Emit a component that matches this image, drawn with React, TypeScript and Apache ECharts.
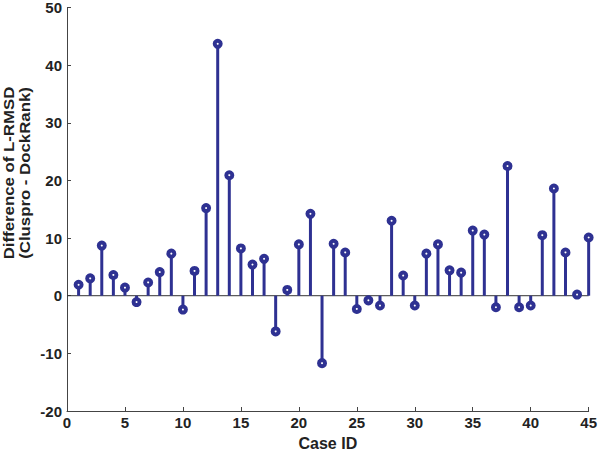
import React, { useEffect, useRef } from "react";
import * as echarts from "echarts";

const caseIds: number[] = [
  1, 2, 3, 4, 5, 6, 7, 8, 9, 10, 11, 12, 13, 14, 15, 16, 17, 18, 19, 20, 21, 22, 23,
  24, 25, 26, 27, 28, 29, 30, 31, 32, 33, 34, 35, 36, 37, 38, 39, 40, 41, 42, 43, 44, 45,
];
const diffValues: number[] = [
  1.9, 3.0, 8.7, 3.6, 1.4, -1.1, 2.3, 4.1, 7.3, -2.4, 4.3, 15.2, 43.7, 20.9, 8.2, 5.4,
  6.4, -6.2, 1.0, 8.9, 14.2, -11.7, 9.0, 7.5, -2.3, -0.8, -1.7, 13.0, 3.5, -1.7, 7.3,
  8.9, 4.4, 4.0, 11.3, 10.6, -2.0, 22.5, -2.0, -1.7, 10.5, 18.6, 7.5, 0.2, 10.1,
];
const xTicks = { min: 0, max: 45, interval: 5 };
const yTicks = { min: -20, max: 50, interval: 10 };
const xTitle = "Case ID";
const yTitleLines = ["Difference of L-RMSD", "(Cluspro - DockRank)"];

const STEM = "#2E3192";
const FONT = "Liberation Sans, Arial, Helvetica, sans-serif";

export default function App() {
  const ref = useRef<HTMLDivElement>(null);
  useEffect(() => {
    document.body.style.margin = "0";
    if (!ref.current) return;
    const chart = echarts.init(ref.current, undefined, { renderer: "svg" });
    const points = caseIds.map((c, i) => [c, diffValues[i]]);
    chart.setOption({
      animation: false,
      backgroundColor: "#ffffff",
      grid: { left: 67, right: 9, top: 7, bottom: 38, containLabel: false },
      xAxis: {
        type: "value",
        min: xTicks.min,
        max: xTicks.max,
        interval: xTicks.interval,
        name: xTitle,
        nameLocation: "middle",
        nameGap: 24,
        nameTextStyle: { fontFamily: FONT, fontWeight: "bold", fontSize: 16, color: "#222" },
        axisLine: { show: true, onZero: false, lineStyle: { color: "#444", width: 1 } },
        axisTick: { show: true, inside: true, length: 4, lineStyle: { color: "#444" } },
        axisLabel: { fontFamily: FONT, fontWeight: "bold", fontSize: 15, color: "#222", margin: 4 },
        splitLine: { show: false },
      },
      yAxis: {
        type: "value",
        min: yTicks.min,
        max: yTicks.max,
        interval: yTicks.interval,
        axisLine: { show: true, onZero: false, lineStyle: { color: "#444", width: 1 } },
        axisTick: { show: true, inside: true, length: 4, lineStyle: { color: "#444" } },
        axisLabel: { fontFamily: FONT, fontWeight: "bold", fontSize: 15, color: "#222", margin: 5 },
        splitLine: { show: false },
      },
      graphic: yTitleLines.map((t, i) => ({
        type: "text",
        x: 9 + i * 16,
        y: 173,
        rotation: Math.PI / 2,
        scaleX: 1.2,
        style: {
          text: t,
          fontFamily: FONT,
          fontWeight: "bold",
          fontSize: 14,
          fill: "#222",
          align: "center",
          verticalAlign: "middle",
        },
      })),
      series: [
        {
          type: "line",
          data: [
            [xTicks.min, 0],
            [xTicks.max, 0],
          ],
          symbol: "none",
          lineStyle: { color: "#333", width: 1 },
          silent: true,
          z: 1,
        },
        {
          type: "custom",
          data: points,
          z: 2,
          clip: false,
          renderItem: (_params: any, api: any) => {
            const x = api.value(0);
            const y = api.value(1);
            const p0 = api.coord([x, 0]);
            const p1 = api.coord([x, y]);
            return {
              type: "line",
              shape: { x1: p0[0], y1: p0[1], x2: p1[0], y2: p1[1] },
              style: { stroke: STEM, lineWidth: 3 },
            };
          },
        },
        {
          type: "scatter",
          data: points,
          symbol: "circle",
          symbolSize: 6,
          clip: false,
          itemStyle: { color: "#ffffff", borderColor: STEM, borderWidth: 4, opacity: 1 },
          z: 3,
        },
      ],
    });
    return () => chart.dispose();
  }, []);
  return <div ref={ref} style={{ width: 600, height: 456 }} />;
}
